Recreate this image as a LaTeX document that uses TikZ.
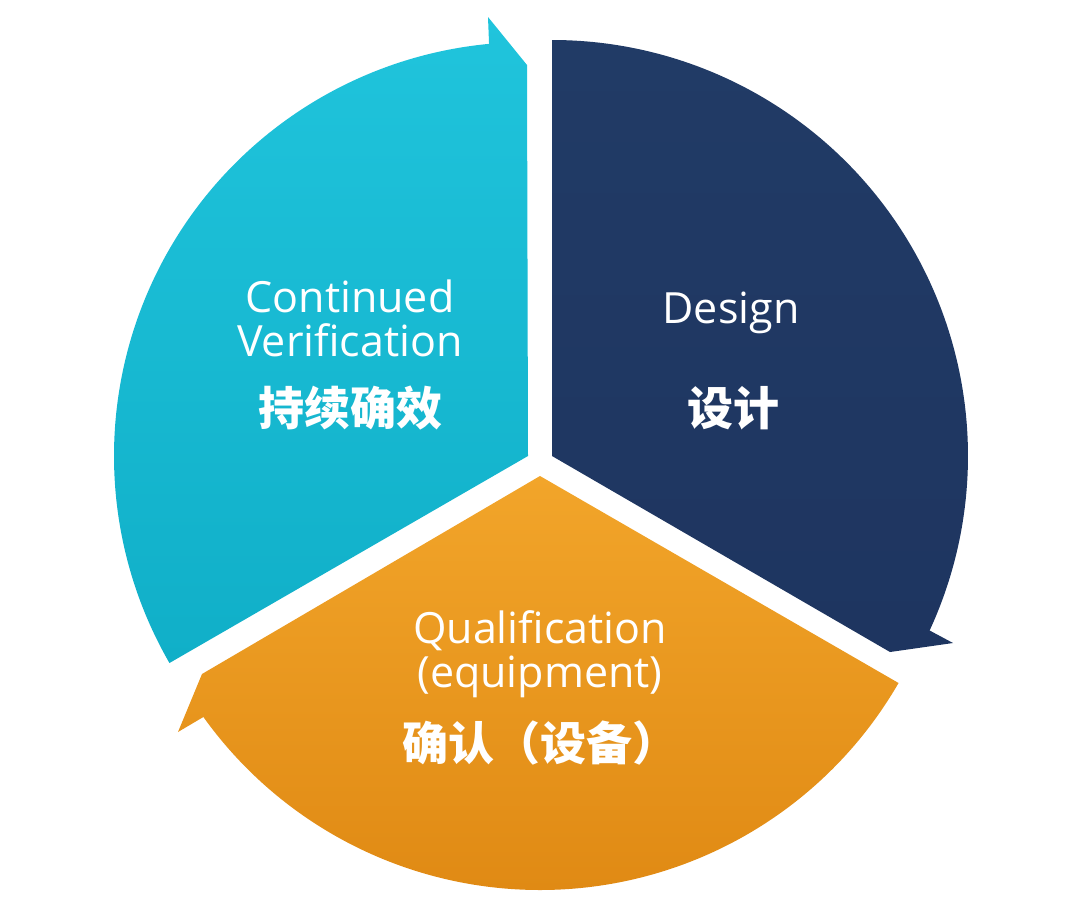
\documentclass[tikz,border=0pt]{standalone}
\usepackage{fontspec}
\setmainfont{Open Sans}
\newfontfamily\cjk{Noto Sans CJK SC}
\definecolor{cyanA}{HTML}{20C4DC}
\definecolor{cyanB}{HTML}{10AFC8}
\definecolor{navyA}{HTML}{213B66}
\definecolor{navyB}{HTML}{1E3560}
\definecolor{orA}{HTML}{F2A52A}
\definecolor{orB}{HTML}{E08A14}
\tikzset{lat/.style={text=white,font=\fontsize{43}{50}\selectfont,align=center},
 cn/.style={text=white,font=\cjk\bfseries\fontsize{46}{52}\selectfont}}
\begin{document}
\begin{tikzpicture}[x=1pt,y=-1pt]
\useasboundingbox (0,0) rectangle (1080,921);
% blue
\coordinate (cb) at (528,456);
\shade[top color=cyanA,bottom color=cyanB] (cb) -- ++(150:414) arc[start angle=150,end angle=264.6,radius=414] -- (488,17) -- (527,65) -- cycle;
% navy
\coordinate (cn) at (552,456);
\shade[top color=navyA,bottom color=navyB] (cn) -- ++(-90:416) arc[start angle=-90,end angle=24.8,radius=416] -- (953,643) -- (890,652) -- cycle;
% orange
\coordinate (co) at (540,476);
\shade[top color=orA,bottom color=orB] (co) -- ++(30:414) arc[start angle=30,end angle=144.4,radius=414] -- (178,732) -- (202,674) -- cycle;
\node[lat] (t1) at (350,318) {Continued\\[-6pt]Verification};
\node[cn] (c1) at (350,408) {持续确效};
\node[lat] (t2) at (731,313) {Design};
\node[cn] (c2) at (733,408) {设计};
\node[lat] (t3) at (540,654) {Qualification\\[-6pt](equipment)};
\node[cn] (c3) at (540,743) {确认（设备）};
\end{tikzpicture}
\end{document}
